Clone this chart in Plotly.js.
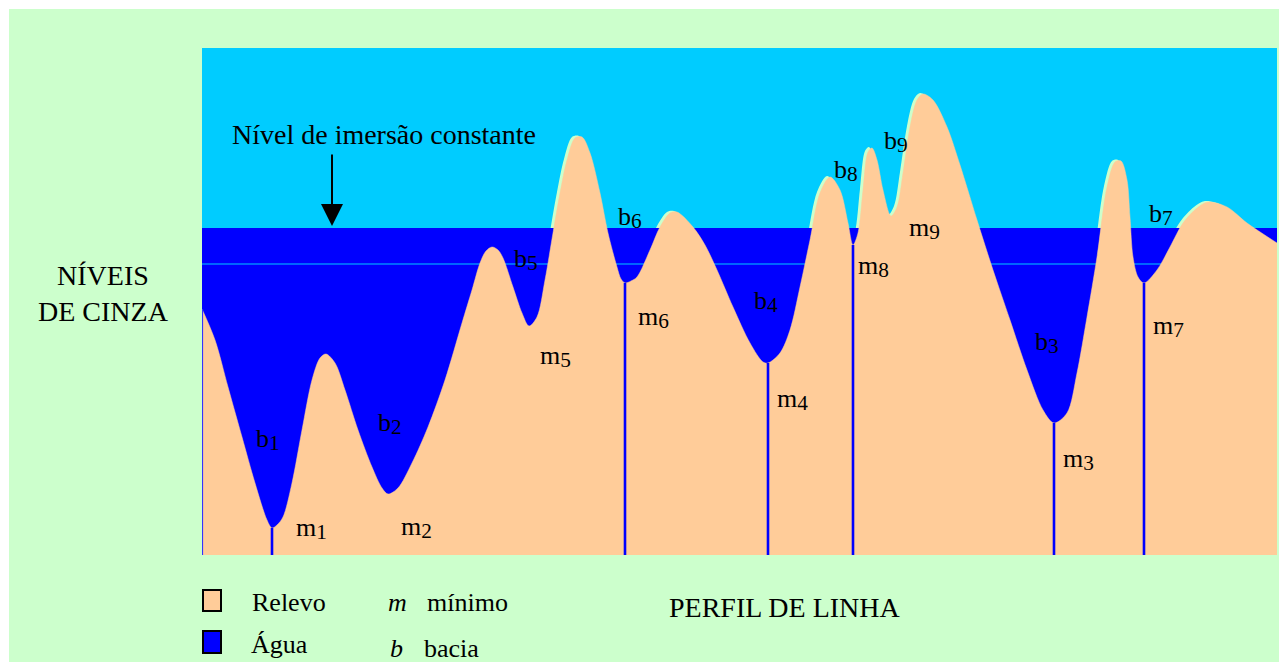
<!DOCTYPE html>
<html><head><meta charset="utf-8">
<script src="https://cdn.plot.ly/plotly-3.0.1.min.js"></script>
<style>html,body{margin:0;padding:0;background:#fff;}#chart{width:1279px;height:662px;}</style>
</head><body><div id="chart"></div>
<script>
// ---- Data: line profile (position along the line, gray level) ----
const profileX = [0,13,26,40,53,65,70,75,81,90,100,110,118,124,133,143,156,170,180,186,196,210,226,243,260,270,278,284,290,296,301,311,320,327,335,343,351,358,365,373,380,388,398,406,415,419,423,429,435,448,458,468,475,491,503,515,531,548,561,566,578,588,598,608,618,628,638,646,651,656,661,666,670,675,681,689,695,701,708,715,721,731,745,758,775,791,808,825,841,852,865,875,885,895,905,913,919,925,928,931,936,942,955,968,981,995,1006,1025,1045,1075];
const profileY = [246,215,168,118,72,35,27,30,38,72,125,175,197,201,192,165,125,88,67,61,67,92,128,175,232,265,292,304,308,305,297,268,242,229,238,275,322,362,395,417,418,402,362,322,288,276,272,274,278,305,328,342,343,328,310,285,248,212,193,192,202,225,268,315,362,378,365,332,310,322,365,403,407,395,365,339,348,382,428,455,461,455,428,390,335,285,235,185,145,132,142,182,238,298,368,393,394,375,338,298,278,272,285,308,332,347,353,348,332,312];
const waterLevel = 327;      // constant immersion level
const lowerLevel = 291;      // thin reference level
const minimaX = [70, 423, 566, 651, 852, 942];   // m1, m6, m4, m8, m3, m7
const minimaY = [27, 272, 192, 310, 132, 272];
const edgeX = 0, edgeY = 246;

// ---- Text content ----
const labelLetters = ['b','m','b','m','b','m','b','m','b','m','b','m','b','m','b','m','b','m'];
const labelIndex   = [1,1,2,2,5,5,6,6,4,4,8,8,9,9,3,3,7,7];
// label placement (layout only): left pixel, baseline pixel
const labelLeft     = [255,295,377,400,513,539,617,637,753,776,833,857,883,908,1034,1062,1148,1152];
const labelBaseline = [448,537,432,536,268,365,226,326,310,408,179,275,150,237,351,468,223,335];

const W = 1279, H = 662, L = 202, R = 2, T = 48, B = 107;
const PW = W - L - R, PH = H - T - B;
const PX = p => (p - L) / PW;
const PY = p => (H - B - p) / PH;
const serif = "'Liberation Serif', 'Times New Roman', serif";

const hx = profileX.map(v => v - 3);
const hy = profileY.map(v => v + 1);

const minX = [], minY = [];
minimaX.forEach((x, i) => { minX.push(x, x, null); minY.push(0, minimaY[i], null); });

const traces = [
  {x: hx, y: hy, type: 'scatter', mode: 'lines', fill: 'tozeroy', fillcolor: '#ccffcc',
   line: {color: '#ccffcc', width: 0, shape: 'spline', smoothing: 0.9}, hoverinfo: 'skip'},
  {x: [0, PW], y: [waterLevel, waterLevel], type: 'scatter', mode: 'lines', fill: 'tozeroy',
   fillcolor: '#0000ff', line: {color: '#0000ff', width: 0}, hoverinfo: 'skip'},
  {x: [0, PW], y: [lowerLevel, lowerLevel], type: 'scatter', mode: 'lines',
   line: {color: '#00ccff', width: 1}, hoverinfo: 'skip'},
  {x: profileX, y: profileY, type: 'scatter', mode: 'lines', fill: 'tozeroy', fillcolor: '#ffcc99',
   line: {color: '#ffcc99', width: 0.5, shape: 'spline', smoothing: 0.9}, hoverinfo: 'skip'},
  {x: minX, y: minY, type: 'scatter', mode: 'lines', line: {color: '#0000ff', width: 2.6},
   connectgaps: false, hoverinfo: 'skip'},
  {x: [edgeX + 0.5, edgeX + 0.5], y: [0, edgeY], type: 'scatter', mode: 'lines',
   line: {color: '#3333ff', width: 1.2}, hoverinfo: 'skip'}
];

const ann = [];
labelLetters.forEach((l, i) => {
  ann.push({xref: 'x', yref: 'y', x: labelLeft[i] - L - 1, y: H - B - (labelBaseline[i] - 9),
    xanchor: 'left', yanchor: 'middle', showarrow: false,
    text: l + '<span style="font-size:82%;baseline-shift:-0.12em">' + labelIndex[i] + '</span>',
    font: {family: serif, size: 26, color: '#000'}});
});
function txt(t, left, base, size, anchor) {
  ann.push({xref: 'paper', yref: 'paper', x: PX(left), y: PY(base - 0.34 * size),
    xanchor: anchor || 'left', yanchor: 'middle', showarrow: false, text: t,
    font: {family: serif, size: size, color: '#000'}});
}
txt('Nível de imersão constante', 230, 144, 28);
txt('PERFIL DE LINHA', 785, 617, 28, 'center');
ann.push({xref: 'paper', yref: 'paper', x: PX(103), y: PY(293), xanchor: 'center', yanchor: 'middle',
  showarrow: false, text: 'NÍVEIS<br>DE CINZA', font: {family: serif, size: 28, color: '#000'}});
txt('Relevo', 250, 611, 26);
txt('Água', 249, 653, 26);
txt('<i>m</i>', 386, 611, 26);
txt('mínimo', 425, 611, 26);
txt('<i>b</i>', 388, 657, 26);
txt('bacia', 422, 657, 26);
// arrow pointing at the immersion level
ann.push({xref: 'paper', yref: 'paper', x: PX(332), y: PY(226), text: '', showarrow: true,
  ax: 0, ay: -73, arrowhead: 2, arrowsize: 2.2, arrowwidth: 2, arrowcolor: '#000', standoff: 0});

const shapes = [
  {type: 'rect', xref: 'paper', yref: 'paper', x0: PX(203), x1: PX(221), y0: PY(611), y1: PY(590),
   fillcolor: '#ffcc99', line: {color: '#000', width: 2}},
  {type: 'rect', xref: 'paper', yref: 'paper', x0: PX(203), x1: PX(221), y0: PY(653), y1: PY(631),
   fillcolor: '#0000ff', line: {color: '#000', width: 2}},
  {type: 'rect', xref: 'paper', yref: 'paper', x0: PX(-5), x1: PX(9), y0: PY(670), y1: PY(-5),
   fillcolor: '#ffffff', line: {width: 0}},
  {type: 'rect', xref: 'paper', yref: 'paper', x0: PX(-5), x1: PX(1290), y0: PY(9), y1: PY(-5),
   fillcolor: '#ffffff', line: {width: 0}}
];

const layout = {
  width: W, height: H,
  margin: {l: L, r: R, t: T, b: B, pad: 0},
  paper_bgcolor: '#ccffcc', plot_bgcolor: '#00ccff',
  showlegend: false,
  xaxis: {range: [0, PW], visible: false, fixedrange: true},
  yaxis: {range: [0, PH], visible: false, fixedrange: true},
  annotations: ann, shapes: shapes
};
Plotly.newPlot('chart', traces, layout, {staticPlot: true, displayModeBar: false});
</script></body></html>
